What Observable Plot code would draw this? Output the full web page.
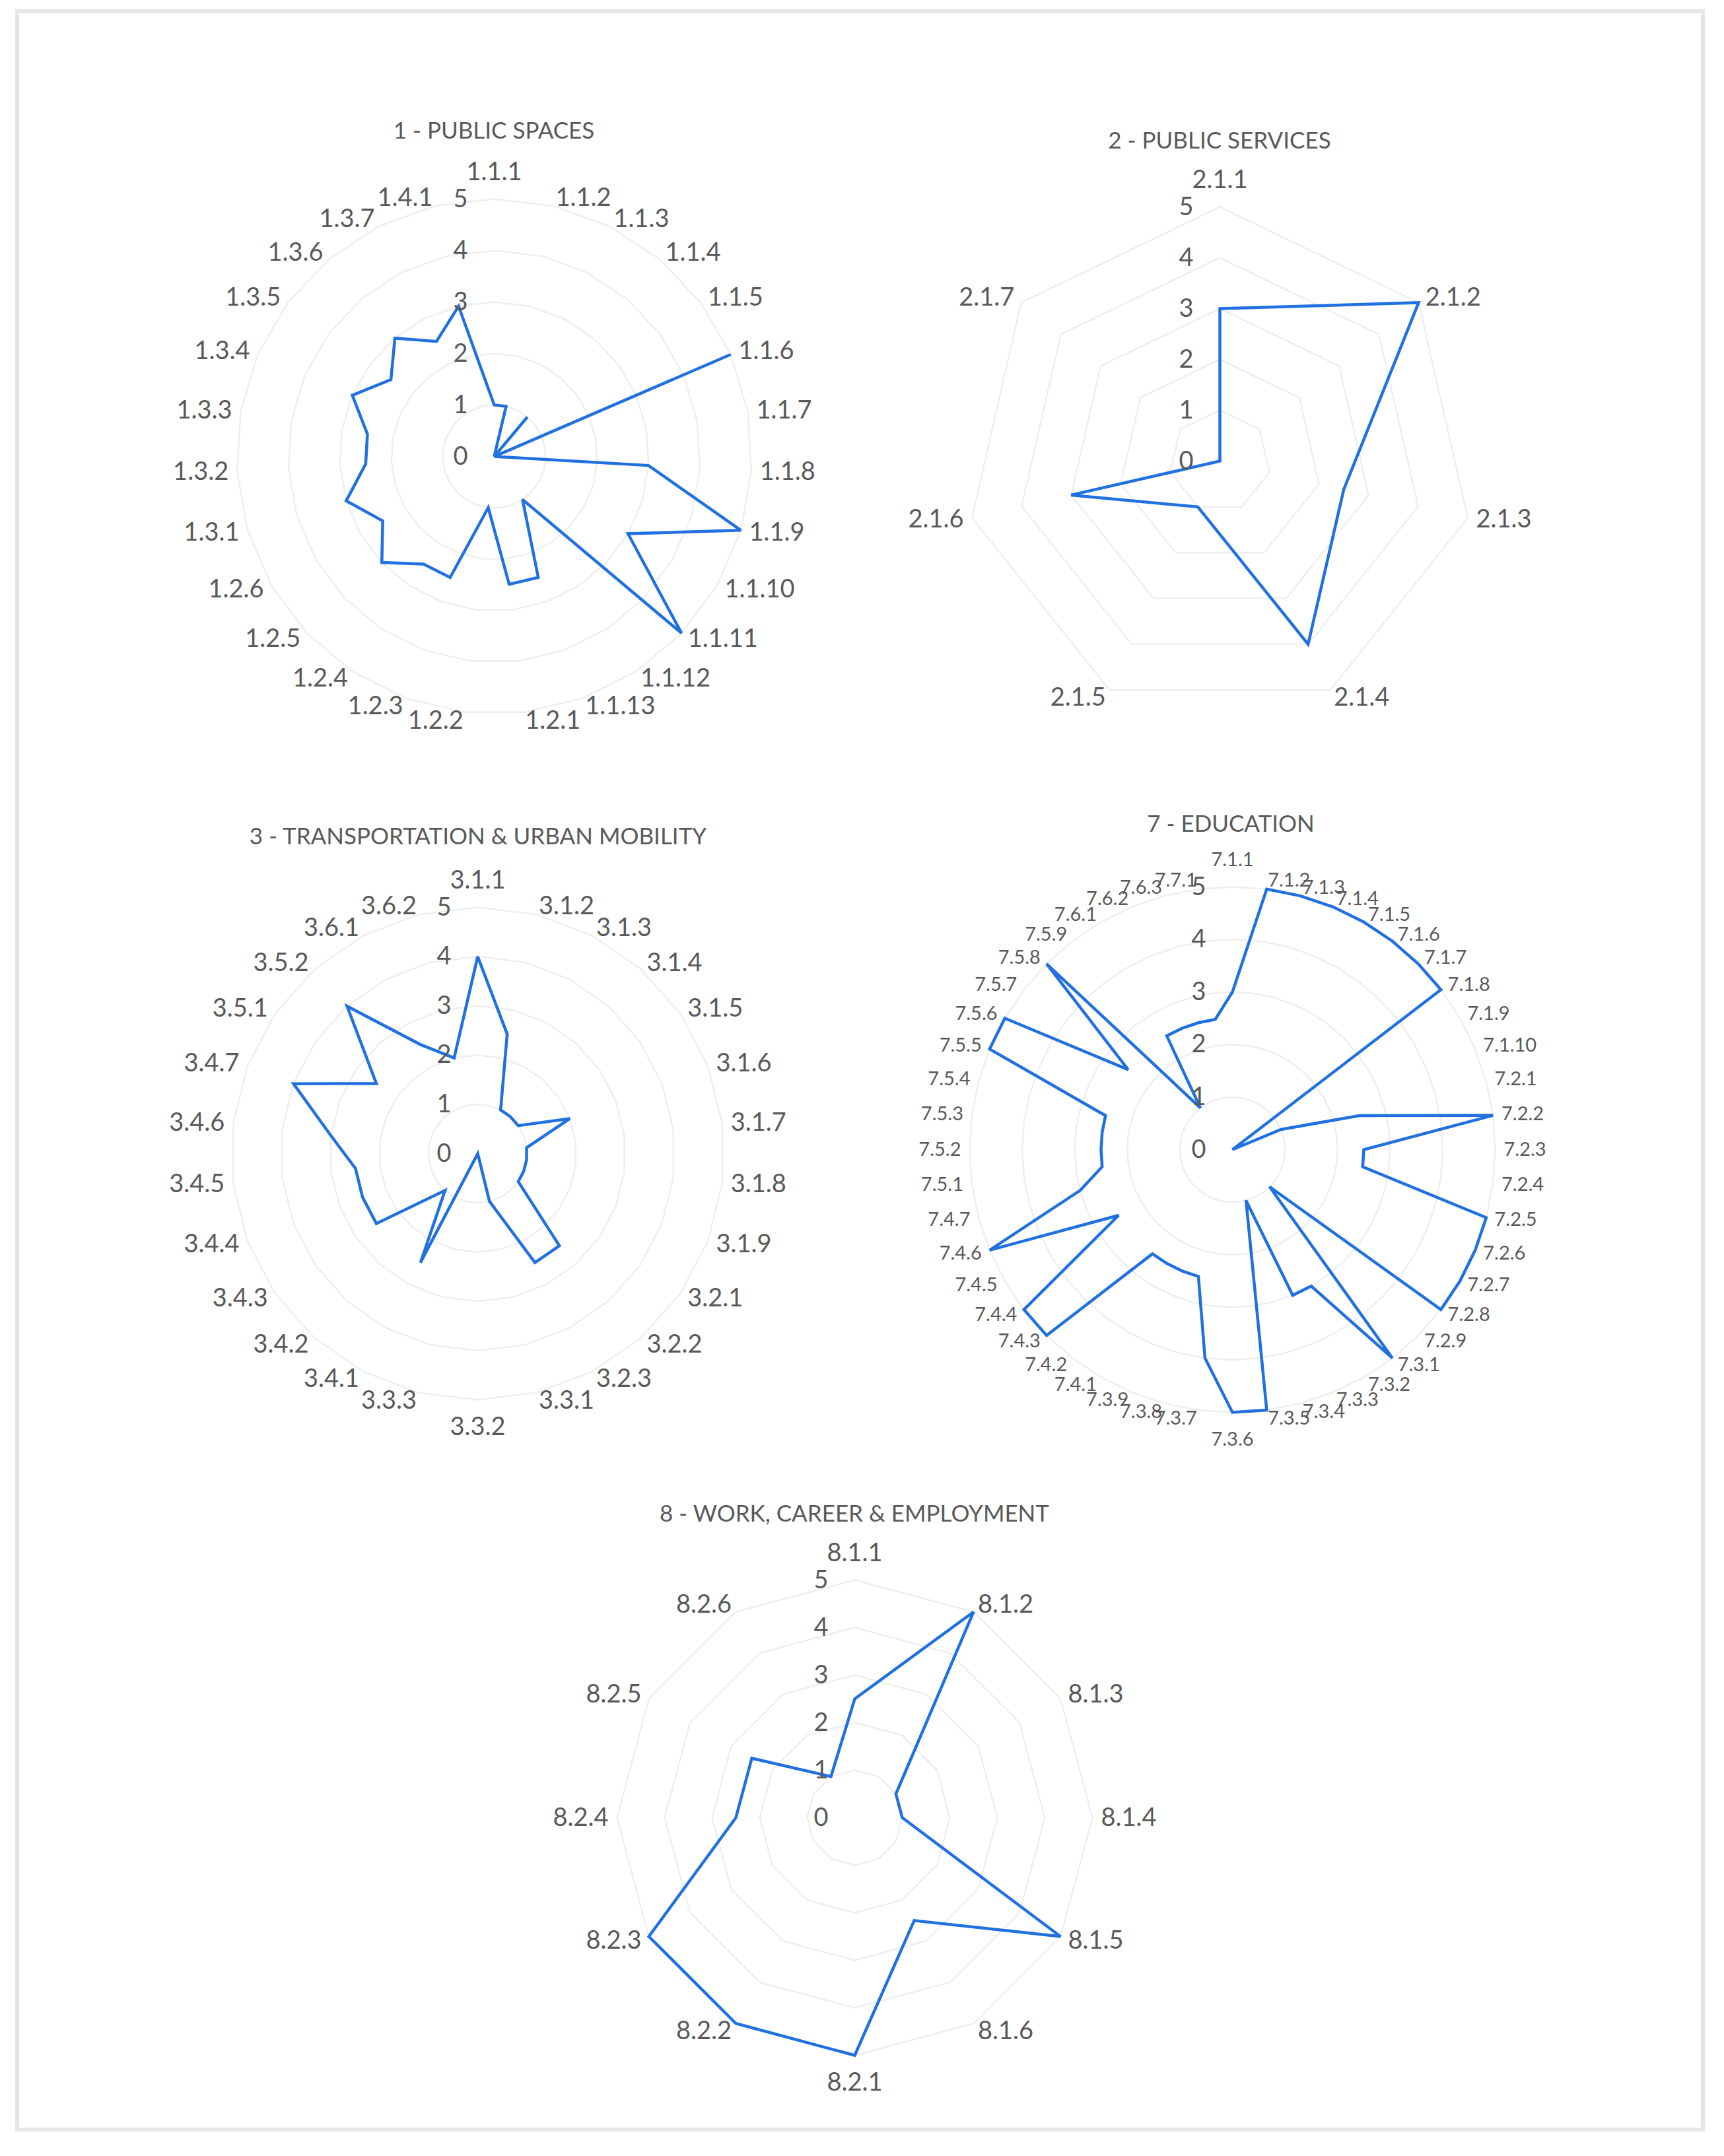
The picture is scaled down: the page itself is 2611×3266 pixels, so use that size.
<!DOCTYPE html>
<html><head><meta charset="utf-8">
<script src="https://cdn.jsdelivr.net/npm/d3@7"></script>
<script src="https://cdn.jsdelivr.net/npm/@observablehq/plot@0.6"></script>
<style>
body{margin:0;background:#fff;}
#page{position:relative;width:2611px;height:3266px;background:#fff;overflow:hidden;font-family:Lato,"Open Sans",sans-serif;}
#frame{position:absolute;left:23px;top:14px;width:2559px;height:3215px;border:6px solid #e6e6e6;box-sizing:border-box;}
.title{position:absolute;transform:translate(-50%,-50%);white-space:nowrap;color:#595959;font-size:35px;font-family:Lato,sans-serif;}
.chart{position:absolute;}
.chart svg{background:transparent;overflow:visible;max-width:none;}
</style></head><body><div id="page"><div id="frame"></div></div>
<script>
// ---------- data ----------
const ticks = [0, 1, 2, 3, 4, 5];

const titles = ["1 - PUBLIC SPACES", "2 - PUBLIC SERVICES", "3 - TRANSPORTATION & URBAN MOBILITY", "7 - EDUCATION", "8 - WORK, CAREER & EMPLOYMENT"];

const cats1 = ["1.1.1","1.1.2","1.1.3","1.1.4","1.1.5","1.1.6","1.1.7","1.1.8","1.1.9","1.1.10","1.1.11","1.1.12","1.1.13",
  "1.2.1","1.2.2","1.2.3","1.2.4","1.2.5","1.2.6",
  "1.3.1","1.3.2","1.3.3","1.3.4","1.3.5","1.3.6","1.3.7","1.4.1"];
const vals1 = [1,1,0,1,0,5,0,3,5,3,5,1,2.5,
  2.5,1,2.5,2.5,3,2.5,
  3,2.5,2.5,3,2.5,3,2.5,3];

const cats2 = ["2.1.1","2.1.2","2.1.3","2.1.4","2.1.5","2.1.6","2.1.7"];
const vals2 = [3,5,2.5,4,1,3,0];

const cats3 = ["3.1.1","3.1.2","3.1.3","3.1.4","3.1.5","3.1.6","3.1.7","3.1.8","3.1.9",
  "3.2.1","3.2.2","3.2.3","3.3.1","3.3.2","3.3.3",
  "3.4.1","3.4.2","3.4.3","3.4.4","3.4.5","3.4.6","3.4.7",
  "3.5.1","3.5.2","3.6.1","3.6.2"];
const vals3 = [4,2.5,1,1,1,2,1,1,1,
  1,2.5,2.5,1,0,0,
  2.5,1,2.5,2.5,2.5,3,4,
  2.5,4,2.5,2];

const cats7 = ["7.1.1","7.1.2","7.1.3","7.1.4","7.1.5","7.1.6","7.1.7","7.1.8","7.1.9","7.1.10",
  "7.2.1","7.2.2","7.2.3","7.2.4","7.2.5","7.2.6","7.2.7","7.2.8","7.2.9",
  "7.3.1","7.3.2","7.3.3","7.3.4","7.3.5","7.3.6","7.3.7","7.3.8","7.3.9",
  "7.4.1","7.4.2","7.4.3","7.4.4","7.4.5","7.4.6","7.4.7",
  "7.5.1","7.5.2","7.5.3","7.5.4","7.5.5","7.5.6","7.5.7","7.5.8","7.5.9",
  "7.6.1","7.6.2","7.6.3","7.7.1"];
const vals7 = [3,5,5,5,5,5,5,5,0,1,
  2.5,5,2.5,2.5,5,5,5,5,1,
  5,3,3,1,5,5,4,2.5,2.5,
  2.5,2.5,5,5,2.5,5,3,
  2.5,2.5,2.5,2.5,5,5,2.5,5,1,
  2.5,2.5,2.5,2.5];

const cats8 = ["8.1.1","8.1.2","8.1.3","8.1.4","8.1.5","8.1.6","8.2.1","8.2.2","8.2.3","8.2.4","8.2.5","8.2.6"];
const vals8 = [2.5,5,1,1,5,2.5,5,5,5,2.5,2.5,1];

// ---------- drawing ----------
const page = document.getElementById("page");
const FONT = "Lato, 'Open Sans', sans-serif";
const GREY = "#595959";

function radar({cats, vals, cx, cy, R, fs, title, tx, ty}) {
  const n = cats.length;
  const M = 260;
  const S = Math.round(2 * (R + M));
  const unit = R / 5;
  const ext = 5 * (R + M) / R;
  const ang = i => 2 * Math.PI * i / n;
  const ring = ticks.filter(t => t > 0).flatMap(L => cats.map((c, i) => ({x: L * Math.sin(ang(i)), y: L * Math.cos(ang(i)), L})));
  const pts = cats.map((c, i) => ({x: vals[i] * Math.sin(ang(i)), y: vals[i] * Math.cos(ang(i)), c}));
  const pad = 13 / unit;
  const lab = cats.map((c, i) => {
    const a = ang(i), s = Math.sin(a), co = Math.cos(a);
    const extra = Math.abs(s) <= 0.05 ? Math.sign(co) * 28 / unit : 0;
    return {c, s, x: (5 + pad) * s, y: (5 + pad) * co + extra};
  });
  const txt = (data, anchor) => Plot.text(data, {x: "x", y: "y", text: "c", textAnchor: anchor, fontSize: fs, fill: GREY, fontFamily: FONT});
  const svg = Plot.plot({
    width: S, height: S, margin: 0,
    style: {background: "transparent", overflow: "visible", fontFamily: FONT},
    x: {domain: [-ext, ext], range: [0, S], axis: null},
    y: {domain: [-ext, ext], range: [S, 0], axis: null},
    marks: [
      Plot.line(ring, {x: "x", y: "y", z: "L", curve: "linear-closed", stroke: "#eeeeee", strokeWidth: 2.5}),
      Plot.line(pts, {x: "x", y: "y", curve: "linear-closed", stroke: "#2070e0", strokeWidth: 4.5, strokeLinejoin: "miter", strokeMiterlimit: 3}),
      txt(lab.filter(d => d.s > 0.05), "start"),
      txt(lab.filter(d => d.s < -0.05), "end"),
      txt(lab.filter(d => Math.abs(d.s) <= 0.05), "middle"),
      Plot.text(ticks, {x: d => 0, y: d => d, text: d => String(d), textAnchor: "end", dx: -40, fontSize: 38, fill: GREY, fontFamily: FONT})
    ]
  });
  const div = document.createElement("div");
  div.className = "chart";
  div.style.left = (cx - S / 2) + "px";
  div.style.top = (cy - S / 2) + "px";
  div.style.width = S + "px";
  div.style.height = S + "px";
  div.appendChild(svg);
  page.appendChild(div);
  const t = document.createElement("div");
  t.className = "title";
  t.textContent = title;
  t.style.left = tx + "px";
  t.style.top = ty + "px";
  page.appendChild(t);
}

radar({cats: cats1, vals: vals1, cx: 748, cy: 691, R: 390, fs: 38, title: titles[0], tx: 748, ty: 196});
radar({cats: cats2, vals: vals2, cx: 1847, cy: 698, R: 385, fs: 38, title: titles[1], tx: 1847, ty: 211});
radar({cats: cats3, vals: vals3, cx: 723, cy: 1747, R: 373, fs: 38, title: titles[2], tx: 724, ty: 1265});
radar({cats: cats7, vals: vals7, cx: 1866, cy: 1741, R: 398, fs: 29, title: titles[3], tx: 1864, ty: 1246});
radar({cats: cats8, vals: vals8, cx: 1294, cy: 2753, R: 360, fs: 38, title: titles[4], tx: 1294, ty: 2291});
</script>
</body></html>
